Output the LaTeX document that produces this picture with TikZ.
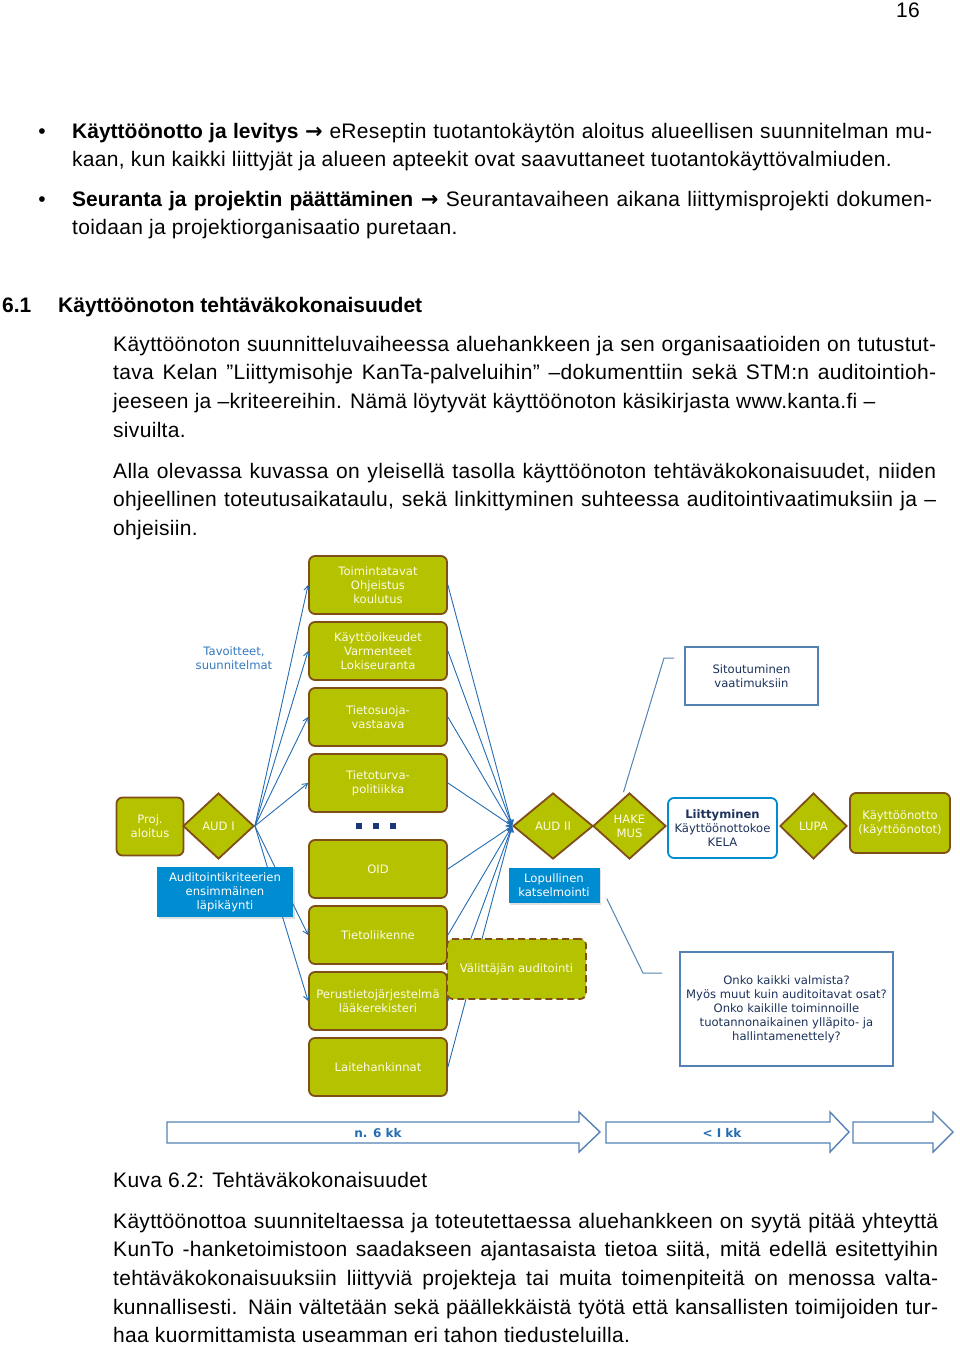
\documentclass[tikz,border=0pt]{standalone}
\usepackage{fontspec}
\setmainfont{Liberation Sans}[LetterSpace=1.5, BoldFeatures={LetterSpace=0}]
\newfontfamily\diagfont{DejaVu Sans}
\usetikzlibrary{shapes.geometric,arrows.meta,shadows}

\definecolor{leaf}{RGB}{181,194,0}
\definecolor{bark}{RGB}{128,78,24}
\definecolor{cream}{RGB}{252,252,230}
\definecolor{sky}{RGB}{0,140,208}
\definecolor{wire}{RGB}{36,108,178}
\definecolor{steel}{RGB}{84,130,180}
\definecolor{navy}{RGB}{28,50,92}
\definecolor{inkblue}{RGB}{50,120,190}
\definecolor{dotnavy}{RGB}{30,54,120}

\newcommand\parastrut{\rule{0pt}{22pt}}
\newcommand\nobreaks{\hyphenpenalty=10000 \exhyphenpenalty=10000 }

\begin{document}
\begin{tikzpicture}[x=1pt,y=-1pt,
  body/.style={font=\fontsize{21}{28.6}\selectfont, inner sep=0pt},
  para/.style={font=\fontsize{21}{28.6}\selectfont\nobreaks,
    inner sep=0pt, anchor=north west, text width=#1, align=justify},
  small/.style={font=\diagfont\fontsize{11.6}{14}\selectfont},
  task/.style={small, draw=bark, line width=1.8pt, fill=leaf, rounded corners=6pt, text=cream,
    minimum width=138pt, minimum height=58pt, align=center, inner sep=1pt},
  gate/.style={small, draw=bark, line width=1.8pt, fill=leaf, shape=diamond, text=cream,
    align=center, inner sep=0pt},
  note/.style={small, fill=sky, text=white, align=center, inner sep=2pt,
    drop shadow={opacity=0.25, shadow xshift=1.5pt, shadow yshift=-1.5pt}},
  frame/.style={small, draw=steel, line width=1.4pt, fill=white, text=navy, align=center},
  link/.style={wire, line width=0.9pt, -{Straight Barb[length=5pt,width=6pt]}},
  callout/.style={steel, line width=1pt},
  span/.style={draw=steel, line width=1.4pt, fill=white}]

  \useasboundingbox (0,0) rectangle (960,1347);

  % page text
  \node[body, anchor=base] (pageno) at (908,17.5) {16};
  \node[body, anchor=base] (dot1) at (42,138) {\textbullet};
  \node[para=860pt] (bul1) at (72,116) {\parastrut\textbf{Käyttöönotto ja levitys} {\diagfont\bfseries →}
    eReseptin tuotantokäytön aloitus alueellisen suunnitelman mu-\linebreak
    kaan, kun kaikki liittyjät ja alueen apteekit ovat saavuttaneet tuotantokäyttövalmiuden.};
  \node[body, anchor=base] (dot2) at (42,206) {\textbullet};
  \node[para=860pt] (bul2) at (72,184) {\parastrut\textbf{Seuranta ja projektin päättäminen} {\diagfont\bfseries →}
    Seurantavaiheen aikana liittymisprojekti dokumen-\linebreak
    toidaan ja projektiorganisaatio puretaan.};
  \node[body, anchor=base west, font=\fontsize{21}{28.6}\selectfont\bfseries] (secno) at (2,312) {6.1};
  \node[body, anchor=base west, font=\fontsize{21}{28.6}\selectfont\bfseries] (sectitle) at (58,312)
    {Käyttöönoton tehtäväkokonaisuudet};
  \node[para=823pt] (intro) at (113,329) {\parastrut Käyttöönoton suunnitteluvaiheessa aluehankkeen
    ja sen organisaatioiden on tutustut-\linebreak
    tava Kelan ”Liittymisohje KanTa-palveluihin” –dokumenttiin sekä STM:n auditointioh-\linebreak
    jeeseen ja –kriteereihin. Nämä löytyvät käyttöönoton käsikirjasta www.kanta.fi –\\
    sivuilta.};
  \node[para=823pt] (lead) at (113,456) {\parastrut Alla olevassa kuvassa on yleisellä tasolla
    käyttöönoton tehtäväkokonaisuudet, niiden\linebreak
    ohjeellinen toteutusaikataulu, sekä linkittyminen suhteessa auditointivaatimuksiin ja –\linebreak
    ohjeisiin.};

  % task column
  \node[task] (toim) at (378,585) {Toimintatavat\\Ohjeistus\\koulutus};
  \node[task] (oike) at (378,651) {Käyttöoikeudet\\Varmenteet\\Lokiseuranta};
  \node[task] (suoja) at (378,717) {Tietosuoja-\\vastaava};
  \node[task] (turva) at (378,783) {Tietoturva-\\politiikka};
  \foreach \x in {359,376,393}
    \fill[dotnavy] (\x-3,823) rectangle +(6,6);
  \node[task] (oid) at (378,869) {OID};
  \node[task] (liik) at (378,935) {Tietoliikenne};
  \node[task] (perus) at (378,1001) {Perustietojärjestelmä\\lääkerekisteri};
  \node[task] (laite) at (378,1067) {Laitehankinnat};

  % start
  \node[task, minimum width=67pt, minimum height=58pt] (proj) at (150,826.5) {Proj.\\aloitus};
  \node[gate, minimum width=71pt, minimum height=66pt] (audi) at (218.5,826) {AUD I};
  \node[small, text=inkblue, align=center] (goal) at (234,658) {Tavoitteet,\\suunnitelmat};

  % gates row
  \node[gate, minimum width=80pt, minimum height=66pt] (audii) at (553,826) {AUD II};
  \node[gate, minimum width=73pt, minimum height=66pt] (hake) at (629.5,826) {HAKE\\MUS};
  \node[small, draw=sky, line width=1.8pt, fill=white, rounded corners=6pt, text=navy, align=center,
    minimum width=109pt, minimum height=60pt, inner sep=1pt] (liit) at (722.5,828)
    {\textbf{Liittyminen}\\Käyttöönottokoe\\KELA};
  \node[gate, minimum width=67pt, minimum height=66pt] (lupa) at (813.5,826) {LUPA};
  \node[task, minimum width=100pt, minimum height=60pt] (kayt) at (900,823) {Käyttöönotto\\(käyttöönotot)};

  % connectors
  \foreach \t in {toim,oike,suoja,turva,liik,perus}
    \draw[link] (audi.east) -- (\t.west);
  \foreach \t in {toim,oike,suoja,turva,oid,liik,perus,laite}
    \draw[link] (\t.east) -- (audii.west);

  % notes on top of the lines
  \node[note, minimum width=136pt, minimum height=50pt] (krit) at (225,892)
    {Auditointikriteerien\\ensimmäinen\\läpikäynti};
  \node[note, minimum width=91pt, minimum height=35pt] (lop) at (554,885.5) {Lopullinen\\katselmointi};
  \node[task, dashed, dash pattern=on 7pt off 4pt, minimum width=139pt, minimum height=60pt] (valit)
    at (516.5,969) {Välittäjän auditointi};

  % comment boxes
  \node[frame, minimum width=133pt, minimum height=58pt] (sito) at (751.5,676) {Sitoutuminen\\vaatimuksiin};
  \coordinate (bend1) at (664,658);
  \coordinate (end1) at (674,658);
  \draw[callout] ([xshift=-6pt]hake.north) -- (bend1) -- (end1);
  \node[frame, minimum width=213pt, minimum height=114pt] (onko) at (786.5,1009)
    {Onko kaikki valmista?\\Myös muut kuin auditoitavat osat?\\Onko kaikille toiminnoille\\
     tuotannonaikainen ylläpito- ja\\hallintamenettely?};
  \coordinate (bend2) at (643,973);
  \coordinate (end2) at (662,973);
  \draw[callout] ([xshift=7pt,yshift=-13pt]lop.east) -- (bend2) -- (end2);

  % time line
  \foreach \a/\b/\c in {167/579/600, 606/830/849, 853/933/953}
    \draw[span] (\a,1122) -- (\b,1122) -- (\b,1112) -- (\c,1132) -- (\b,1152) -- (\b,1143) -- (\a,1143) -- cycle;
  \node[font=\diagfont\bfseries\fontsize{12}{14}\selectfont, text=wire] (six) at (378,1133) {n. 6 kk};
  \node[font=\diagfont\bfseries\fontsize{12}{14}\selectfont, text=wire] (one) at (722,1133) {< I kk};

  % caption and closing text
  \node[body, anchor=base west] (caption) at (113,1187) {Kuva 6.2: Tehtäväkokonaisuudet};
  \node[para=825pt] (outro) at (113,1206) {\parastrut Käyttöönottoa suunniteltaessa ja toteutettaessa
    aluehankkeen on syytä pitää yhteyttä\linebreak
    KunTo -hanketoimistoon saadakseen ajantasaista tietoa siitä, mitä edellä esitettyihin\linebreak
    tehtäväkokonaisuuksiin liittyviä projekteja tai muita toimenpiteitä on menossa valta-\linebreak
    kunnallisesti. Näin vältetään sekä päällekkäistä työtä että kansallisten toimijoiden tur-\linebreak
    haa kuormittamista useamman eri tahon tiedusteluilla.};

\end{tikzpicture}
\end{document}
